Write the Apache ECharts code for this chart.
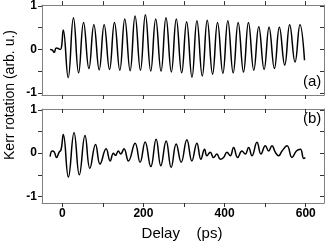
<!DOCTYPE html>
<html>
<head>
<meta charset="UTF-8">
<script src="https://cdn.jsdelivr.net/npm/echarts@6/dist/echarts.min.js"></script>
<style>
  html, body { margin: 0; padding: 0; background: #fff; }
  #chart { width: 327px; height: 246px; }
</style>
</head>
<body>
<div id="chart"></div>
<script>
// panel (a): delay (ps) and Kerr rotation (extrema + pre-zero wiggle)
var topDelay = [-30, -25, -20, -15, -10, -5, -2, 2.5, 14.5,
  27.5, 40.2, 52.4, 65.6, 77.8, 91.0, 103.2, 116.4, 128.6, 141.8, 154.0, 167.2,
  179.4, 192.6, 204.8, 218.0, 230.2, 243.4, 255.6, 268.8, 281.0, 294.2, 306.4, 319.6,
  331.8, 345.0, 357.2, 370.4, 382.6, 395.8, 408.0, 421.2, 433.4, 446.6, 458.8, 472.0,
  484.2, 497.4, 509.6, 522.8, 535.0, 548.2, 560.4, 573.6, 585.8, 597];
var topKerr = [0.0, -0.01, -0.07, 0.03, 0.02, 0.0, 0.05, 0.45, -0.65,
  0.73, -0.54, 0.62, -0.44, 0.57, -0.47, 0.57, -0.46, 0.62, -0.48, 0.70, -0.49,
  0.77, -0.48, 0.80, -0.50, 0.70, -0.50, 0.73, -0.52, 0.70, -0.54, 0.64, -0.64,
  0.66, -0.61, 0.67, -0.57, 0.62, -0.55, 0.66, -0.54, 0.62, -0.52, 0.62, -0.48,
  0.52, -0.46, 0.51, -0.44, 0.51, -0.36, 0.57, -0.29, 0.57, -0.25];

// panel (b)
var botDelay = [-30, -25, -20, -14, -8, -3, 2.5, 15, 29, 42, 56, 68, 82, 93, 108, 118,
  126, 131, 138, 144, 152, 163, 179.5, 191.8, 204.2, 218.2, 231.3, 242.8, 256, 268.3,
  280.7, 293, 307, 319.4, 331.7, 341.6, 350.6, 356.4, 364.6, 372.8, 381, 389.3, 397.5,
  405.8, 414, 422.2, 432.1, 442.8, 451, 459.2, 467.5, 479.8, 489.7, 500.4, 508.6, 516.8,
  525.1, 533.3, 541.5, 553.9, 566.2, 576.9, 586.8, 595, 599];
var botKerr = [-0.08, 0.05, 0.03, -0.10, 0.02, 0.08, 0.43, -0.55, 0.47, -0.50, 0.41, -0.35,
  0.20, -0.25, 0.10, -0.18, 0.0, -0.05, 0.05, -0.02, 0.10, -0.18, 0.23, -0.21, 0.26, -0.31,
  0.32, -0.29, 0.28, -0.33, 0.21, -0.21, 0.31, -0.18, 0.23, -0.14, 0.09, -0.06, 0.02, -0.10,
  -0.02, -0.14, -0.10, 0.02, -0.06, 0.13, -0.10, 0.05, -0.02, 0.13, -0.06, 0.25, -0.02, 0.17,
  0.05, 0.17, 0.02, -0.06, 0.05, 0.17, -0.10, 0.05, 0.09, -0.12, -0.10];

var xTicks = [0, 100, 200, 300, 400, 500, 600];
var xLabels = [0, 200, 400, 600];
var yTicks = [-1, -0.5, 0, 0.5, 1];
var yLabels = [-1, 0, 1];

function pairs(xs, ys) {
  return xs.map(function (x, i) { return [x, ys[i]]; });
}

var axisColor = '#808080';
var labelFont = { fontFamily: 'Liberation Sans', fontWeight: 'bold', fontSize: 12, color: '#000' };

function xAx(grid, pos, showLabel, inside) {
  return {
    type: 'value', gridIndex: grid, position: pos, min: -50, max: 645,
    axisLine: { show: true, onZero: false, lineStyle: { color: axisColor, width: 1 } },
    axisTick: { show: true, inside: inside, length: 4, customValues: xTicks, lineStyle: { color: '#333' } },
    axisLabel: Object.assign({ show: showLabel, customValues: xLabels, margin: 5 }, labelFont),
    splitLine: { show: false }
  };
}
function yAx(grid, pos, min, max, showLabel, inside) {
  return {
    type: 'value', gridIndex: grid, position: pos, min: min, max: max,
    axisLine: { show: true, onZero: false, lineStyle: { color: axisColor, width: 1 } },
    axisTick: { show: true, inside: inside, length: 4, customValues: yTicks, lineStyle: { color: '#333' } },
    axisLabel: Object.assign({ show: showLabel, customValues: yLabels, margin: 5 }, labelFont),
    splitLine: { show: false }
  };
}

var chart = echarts.init(document.getElementById('chart'), null, { renderer: 'canvas' });
chart.setOption({
  animation: false,
  backgroundColor: '#fff',
  grid: [
    { left: 42, top: 4.5, width: 282, height: 90.5 },
    { left: 42, top: 109, width: 282, height: 94 }
  ],
  xAxis: [
    xAx(0, 'bottom', false, false),
    xAx(0, 'top', false, false),
    xAx(1, 'bottom', true, false),
    xAx(1, 'top', false, true)
  ],
  yAxis: [
    yAx(0, 'left', -1.05, 1.02, true, false),
    yAx(0, 'right', -1.05, 1.02, false, true),
    yAx(1, 'left', -1.15, 1.02, true, false),
    yAx(1, 'right', -1.15, 1.02, false, true)
  ],
  series: [
    {
      type: 'line', xAxisIndex: 0, yAxisIndex: 0, data: pairs(topDelay, topKerr),
      showSymbol: false, smooth: 0.45, lineStyle: { color: '#000', width: 1.5 }
    },
    {
      type: 'line', xAxisIndex: 2, yAxisIndex: 2, data: pairs(botDelay, botKerr),
      showSymbol: false, smooth: 0.45, lineStyle: { color: '#000', width: 1.5 }
    }
  ],
  graphic: [
    { type: 'text', left: 303, top: 74, style: { text: '(a)', font: '15px "Liberation Sans"', fill: '#000' } },
    { type: 'text', left: 303, top: 111, style: { text: '(b)', font: '15px "Liberation Sans"', fill: '#000' } },
    { type: 'text', x: 182, y: 234, style: { text: 'Delay    (ps)', font: '15px "Liberation Sans"', fill: '#000', align: 'center', verticalAlign: 'middle' } },
    { type: 'text', x: 10, y: 95, rotation: Math.PI / 2, style: { text: 'Kerr rotation (arb. u.)', font: '14px "Liberation Sans"', fill: '#000', align: 'center', verticalAlign: 'middle' } }
  ]
});
</script>
</body>
</html>
